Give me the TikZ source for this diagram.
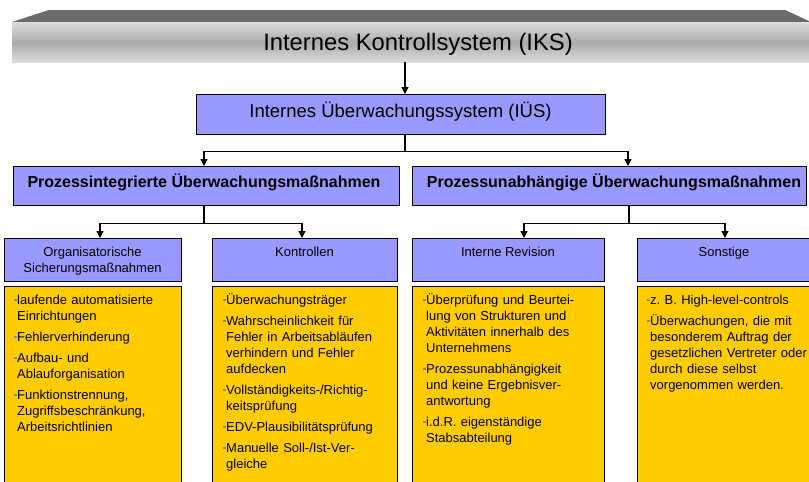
\documentclass[tikz,border=0pt]{standalone}
\usepackage{fontspec}
\setmainfont{Liberation Sans}
\usetikzlibrary{arrows.meta}
\definecolor{boxblue}{HTML}{9999FF}
\definecolor{boxyellow}{HTML}{FFCC00}
\definecolor{banddark}{HTML}{6B6B6B}
\definecolor{bandlight}{HTML}{DDDDDD}
\definecolor{bandmid}{HTML}{AAAAAA}
\definecolor{bulletgray}{HTML}{8A8A8A}
\frenchspacing
\newcommand{\itm}{\leavevmode\llap{\textcolor{bulletgray}{\rule[3.5pt]{3pt}{1.1pt}}\hspace{0.6pt}}}
\begin{document}
\begin{tikzpicture}[x=1pt,y=-1pt,
  bluebox/.style={draw=black, line width=1.4pt, fill=boxblue, inner sep=0, anchor=north west},
  yellowbox/.style={draw=black, line width=1.4pt, fill=boxyellow, inner sep=0, anchor=north west},
  conn/.style={draw=black, line width=1.2pt, -{Triangle[length=7pt,width=7pt]}},
  lbl/.style={inner sep=0, anchor=base},
  listtext/.style={inner sep=0, anchor=base west, text width=230pt, align=left, font=\fontsize{13}{16}\selectfont},
]
\useasboundingbox (0,0) rectangle (809,482);
\clip (0,0) rectangle (809,482);
\fill[white] (0,0) rectangle (809,482);

% banner
\fill[banddark] (12,22) -- (49,10) -- (785,10) -- (811,22) -- cycle;
\node[inner sep=0, anchor=north west, minimum width=799pt, minimum height=40pt,
      top color=bandlight, bottom color=bandlight, middle color=bandmid] (iks) at (12,22) {};
\node[lbl, font=\fontsize{23.8}{28}\selectfont] (tiks) at (418,50) {Internes Kontrollsystem (IKS)};

% boxes
\node[bluebox, minimum width=409pt, minimum height=40pt] (ius) at (196,94) {};
\node[lbl, font=\fontsize{18.5}{22}\selectfont] (tius) at (400.5,117) {Internes Überwachungssystem (IÜS)};

\node[bluebox, minimum width=386pt, minimum height=39pt] (p1) at (13,166) {};
\node[bluebox, minimum width=394pt, minimum height=39pt] (p2) at (412,166) {};
\node[lbl, font=\fontsize{16}{19}\selectfont\bfseries] (tp1) at (204,187) {Prozessintegrierte Überwachungsmaßnahmen};
\node[lbl, font=\fontsize{16}{19}\selectfont\bfseries] (tp2) at (614,187) {Prozessunabhängige Überwachungsmaßnahmen};

\node[bluebox, minimum width=177pt, minimum height=43pt] (o1) at (4,238) {};
\node[bluebox, minimum width=185pt, minimum height=43pt] (o2) at (212,238) {};
\node[bluebox, minimum width=192pt, minimum height=43pt] (o3) at (412,238) {};
\node[bluebox, minimum width=174pt, minimum height=43pt] (o4) at (637,238) {};

\node[lbl, text width=170pt, align=center, font=\fontsize{13}{16}\selectfont] (to1) at (92.5,256) {Organisatorische\\Sicherungsmaßnahmen};
\node[lbl, font=\fontsize{13}{16}\selectfont] (to2) at (304.5,256) {Kontrollen};
\node[lbl, font=\fontsize{13}{16}\selectfont] (to3) at (508,256) {Interne Revision};
\node[lbl, font=\fontsize{13}{16}\selectfont] (to4) at (724,256) {Sonstige};

\node[yellowbox, minimum width=177pt, minimum height=210pt] (y1) at (4,286) {};
\node[yellowbox, minimum width=185pt, minimum height=210pt] (y2) at (212,286) {};
\node[yellowbox, minimum width=192pt, minimum height=210pt] (y3) at (412,286) {};
\node[yellowbox, minimum width=174pt, minimum height=210pt] (y4) at (637,286) {};

\node[listtext] (l1) at (17,304) {\itm laufende automatisierte\\Einrichtungen\\[5pt]
\itm Fehlerverhinderung\\[5pt]
\itm Aufbau- und\\Ablauforganisation\\[5pt]
\itm Funktionstrennung,\\Zugriffsbeschränkung,\\Arbeitsrichtlinien};

\node[listtext] (l2) at (226,304) {\itm Überwachungsträger\\[5pt]
\itm Wahrscheinlichkeit für\\Fehler in Arbeitsabläufen\\verhindern und Fehler\\aufdecken\\[5pt]
\itm Vollständigkeits-/Richtig-\\keitsprüfung\\[5pt]
\itm EDV-Plausibilitätsprüfung\\[5pt]
\itm Manuelle Soll-/Ist-Ver-\\gleiche};

\node[listtext] (l3) at (426,304) {\itm Überprüfung und Beurtei-\\lung von Strukturen und\\Aktivitäten innerhalb des\\Unternehmens\\[5pt]
\itm Prozessunabhängigkeit\\und keine Ergebnisver-\\antwortung\\[5pt]
\itm i.d.R. eigenständige\\Stabsabteilung};

\node[listtext] (l4) at (650,304) {\itm z. B. High-level-controls\\[5pt]
\itm Überwachungen, die mit\\besonderem Auftrag der\\gesetzlichen Vertreter oder\\durch diese selbst\\vorgenommen werden.};

% connectors
\coordinate (k) at (405,0);
\coordinate (c1) at (204,0);
\coordinate (c2) at (628,0);
\coordinate (e1) at (100,0);
\coordinate (e2) at (302,0);
\coordinate (f) at (629,0);
\coordinate (g1) at (524,0);
\coordinate (g2) at (725,0);

\draw[conn] (iks.south -| k) -- (ius.north -| k);
\draw[conn] (ius.south -| k) -- ++(0,16) -| (p1.north -| c1);
\draw[conn] (ius.south -| k) -- ++(0,16) -| (p2.north -| c2);
\draw[conn] (p1.south -| c1) -- ++(0,17) -| (o1.north -| e1);
\draw[conn] (p1.south -| c1) -- ++(0,17) -| (o2.north -| e2);
\draw[conn] (p2.south -| f) -- ++(0,17) -| (o3.north -| g1);
\draw[conn] (p2.south -| f) -- ++(0,17) -| (o4.north -| g2);
\end{tikzpicture}
\end{document}
